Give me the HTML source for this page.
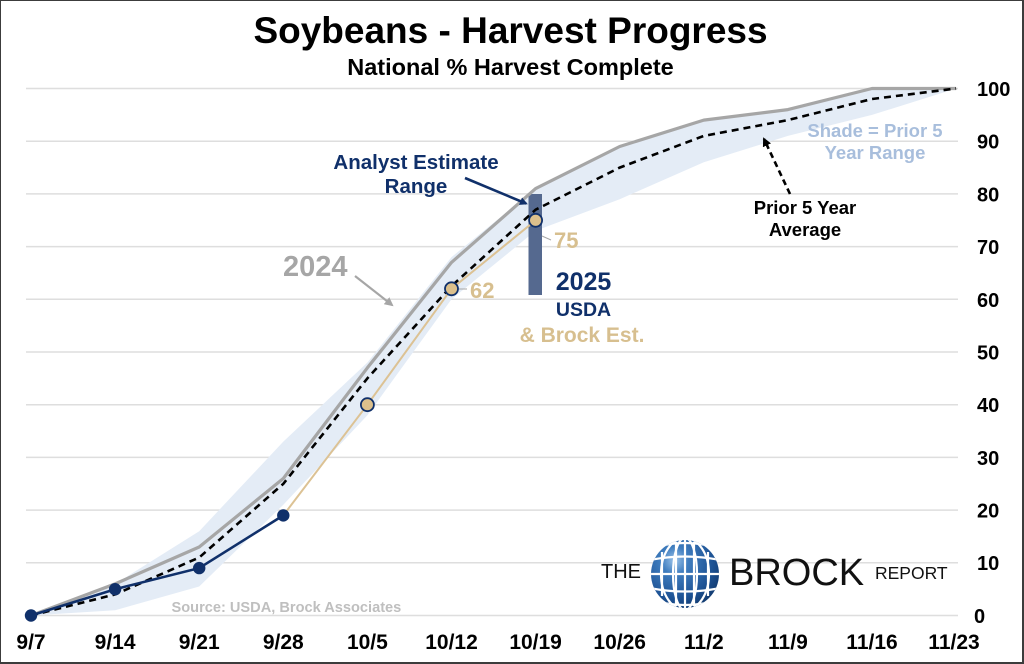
<!DOCTYPE html>
<html><head><meta charset="utf-8"><style>
html,body{margin:0;padding:0;background:#fff;}
svg{display:block;}
text{font-family:"Liberation Sans",Arial,sans-serif;}
</style></head><body>
<svg width="1024" height="664" viewBox="0 0 1024 664" xmlns="http://www.w3.org/2000/svg">
<defs>
<radialGradient id="gb" cx="0.35" cy="0.3" r="0.8">
<stop offset="0" stop-color="#9cc4ea"/>
<stop offset="0.25" stop-color="#3f7dbf"/>
<stop offset="0.7" stop-color="#1d5294"/>
<stop offset="1" stop-color="#0f3567"/>
</radialGradient>
<clipPath id="gc"><circle cx="685" cy="574" r="34"/></clipPath>
<marker id="ahN" markerWidth="8" markerHeight="8" refX="6" refY="4" orient="auto" markerUnits="userSpaceOnUse"><path d="M0,0 L8,4 L0,8 z" fill="#10306a"/></marker>
<marker id="ahG" markerWidth="9" markerHeight="9" refX="7" refY="4.5" orient="auto" markerUnits="userSpaceOnUse"><path d="M0,0 L9,4.5 L0,9 z" fill="#a6a6a6"/></marker>
<marker id="ahK" markerWidth="9" markerHeight="9" refX="7" refY="4.5" orient="auto" markerUnits="userSpaceOnUse"><path d="M0,0 L9,4.5 L0,9 z" fill="#000"/></marker>
</defs>
<rect x="0" y="0" width="1024" height="664" fill="#fff"/>

<!-- title -->
<text x="510.5" y="43" font-size="37" font-weight="bold" text-anchor="middle" fill="#000">Soybeans - Harvest Progress</text>
<text x="510.5" y="75" font-size="23.5" font-weight="bold" text-anchor="middle" fill="#000">National % Harvest Complete</text>

<!-- gridlines -->
<g stroke="#dedede" stroke-width="1.5">
<line x1="26" y1="88.5" x2="958" y2="88.5"/>
<line x1="26" y1="141.2" x2="958" y2="141.2"/>
<line x1="26" y1="193.9" x2="958" y2="193.9"/>
<line x1="26" y1="246.6" x2="958" y2="246.6"/>
<line x1="26" y1="299.3" x2="958" y2="299.3"/>
<line x1="26" y1="352" x2="958" y2="352"/>
<line x1="26" y1="404.7" x2="958" y2="404.7"/>
<line x1="26" y1="457.4" x2="958" y2="457.4"/>
<line x1="26" y1="510.1" x2="958" y2="510.1"/>
<line x1="26" y1="562.8" x2="958" y2="562.8"/>
<line x1="26" y1="615.5" x2="958" y2="615.5"/>
</g>

<!-- y labels -->
<g font-size="20" font-weight="bold" fill="#000">
<text x="977" y="96">100</text>
<text x="977" y="148.5">90</text>
<text x="977" y="201.5">80</text>
<text x="977" y="254">70</text>
<text x="977" y="307">60</text>
<text x="977" y="359.5">50</text>
<text x="977" y="412">40</text>
<text x="977" y="465">30</text>
<text x="977" y="517.5">20</text>
<text x="977" y="570">10</text>
<text x="974" y="623">0</text>
</g>

<!-- x labels -->
<g font-size="21" font-weight="bold" fill="#000" text-anchor="middle">
<text x="31" y="649">9/7</text>
<text x="115.1" y="649">9/14</text>
<text x="199.2" y="649">9/21</text>
<text x="283.3" y="649">9/28</text>
<text x="367.4" y="649">10/5</text>
<text x="451.5" y="649">10/12</text>
<text x="535.6" y="649">10/19</text>
<text x="619.7" y="649">10/26</text>
<text x="703.8" y="649">11/2</text>
<text x="787.9" y="649">11/9</text>
<text x="872" y="649">11/16</text>
<text x="954" y="649">11/23</text>
</g>

<!-- shade range -->
<polygon fill="#e4ecf6" points="31,615.5 115.1,583.9 199.2,531.2 283.3,441.6 367.4,362.5 451.5,257.1 535.6,188.6 619.7,146.5 703.8,120.1 787.9,109.6 872,88.5 956.1,88.5 872,114.9 787.9,135.9 703.8,162.3 619.7,199.2 535.6,230.8 451.5,299.3 367.4,415.2 283.3,504.8 199.2,586.5 115.1,610.2"/>

<!-- analyst range bar -->
<rect x="528.5" y="194" width="13.5" height="101" fill="#55698f"/>

<!-- 2024 -->
<polyline fill="none" stroke="#a6a6a6" stroke-width="3.2" stroke-linejoin="round" points="31,615.5 115.1,583.9 199.2,547 283.3,478.5 367.4,367.8 451.5,262.4 535.6,188.6 619.7,146.5 703.8,120.1 787.9,109.6 872,88.5 956.1,88.5"/>

<!-- avg dashed -->
<polyline fill="none" stroke="#000" stroke-width="2.6" stroke-dasharray="7,5" points="31,615.5 115.1,594.4 199.2,557.5 283.3,483.8 367.4,378.3 451.5,286.1 535.6,209.7 619.7,167.6 703.8,135.9 787.9,120.1 872,99 956.1,88.5"/>

<!-- tan estimate line -->
<polyline fill="none" stroke="#dcc294" stroke-width="2" points="283.3,515.4 367.4,404.7 451.5,288.8 535.6,220.3"/>

<!-- navy 2025 -->
<polyline fill="none" stroke="#10306a" stroke-width="2.6" points="31,615.5 115.1,589.2 199.2,568.1 283.3,515.4"/>
<g fill="#10306a">
<circle cx="31" cy="615.5" r="6.2"/>
<circle cx="115.1" cy="589.2" r="6.2"/>
<circle cx="199.2" cy="568.1" r="6.2"/>
<circle cx="283.3" cy="515.4" r="6.2"/>
</g>
<g fill="#dcc08c" stroke="#10306a" stroke-width="1.8">
<circle cx="367.4" cy="404.7" r="6.5"/>
<circle cx="451.5" cy="288.8" r="6.5"/>
<circle cx="535.6" cy="220.3" r="6.5"/>
</g>

<!-- data labels -->
<line x1="459" y1="289" x2="467" y2="289" stroke="#a6a6a6" stroke-width="1"/>
<line x1="542" y1="236" x2="551" y2="240" stroke="#a6a6a6" stroke-width="1"/>
<g font-size="22" font-weight="bold" fill="#d7bf8f">
<text x="470" y="298">62</text>
<text x="554" y="248">75</text>
</g>

<!-- annotations -->
<text x="283" y="276" font-size="29" font-weight="bold" fill="#a6a6a6">2024</text>
<line x1="355" y1="276" x2="392" y2="305" stroke="#a6a6a6" stroke-width="2.2" marker-end="url(#ahG)"/>

<g font-size="20.5" font-weight="bold" fill="#10306a" text-anchor="middle">
<text x="416" y="169">Analyst Estimate</text>
<text x="416" y="193">Range</text>
</g>
<line x1="465" y1="178" x2="526" y2="203.5" stroke="#10306a" stroke-width="2.6" marker-end="url(#ahN)"/>

<text x="583.5" y="290" font-size="25" font-weight="bold" fill="#10306a" text-anchor="middle">2025</text>
<text x="583.5" y="316" font-size="19.5" font-weight="bold" fill="#10306a" text-anchor="middle">USDA</text>
<text x="582" y="342" font-size="21" font-weight="bold" fill="#d7bf8f" text-anchor="middle">&amp; Brock Est.</text>

<g font-size="18.5" font-weight="bold" fill="#a8bedc" text-anchor="middle">
<text x="875" y="137">Shade = Prior 5</text>
<text x="875" y="159">Year Range</text>
</g>

<line x1="790" y1="194" x2="764" y2="139" stroke="#000" stroke-width="2.6" stroke-dasharray="6,4" marker-end="url(#ahK)"/>
<g font-size="18.5" font-weight="bold" fill="#000" text-anchor="middle">
<text x="805" y="214">Prior 5 Year</text>
<text x="805" y="236">Average</text>
</g>

<text x="171.5" y="612" font-size="14.6" font-weight="bold" fill="#bfbfbf">Source: USDA, Brock Associates</text>

<!-- logo -->
<text x="601" y="578" font-size="20" fill="#111">THE</text>
<circle cx="685" cy="574" r="34" fill="url(#gb)"/>
<g clip-path="url(#gc)" stroke="#fff" stroke-width="2.2" fill="none">
<ellipse cx="685" cy="574" rx="12" ry="36"/>
<ellipse cx="685" cy="574" rx="24" ry="36"/>
<line x1="685" y1="538" x2="685" y2="610"/>
<line x1="650" y1="574" x2="720" y2="574"/>
<path d="M650,560 Q685,553 720,560"/>
<path d="M650,588 Q685,595 720,588"/>
<path d="M652,548 Q685,538 718,548"/>
<path d="M652,600 Q685,610 718,600"/>
<line x1="662" y1="552" x2="662" y2="596"/>
<line x1="708" y1="552" x2="708" y2="596"/>
<line x1="694" y1="542" x2="694" y2="606"/>
<line x1="676" y1="542" x2="676" y2="606"/>
</g>
<text x="729" y="585" font-size="38" fill="#111">BROCK</text>
<text x="875" y="579" font-size="17.5" fill="#111">REPORT</text>

<!-- border -->
<rect x="0" y="0" width="1024" height="1" fill="#3c3c3c"/>
<rect x="0" y="0" width="1" height="664" fill="#3c3c3c"/>
<rect x="1022" y="0" width="2" height="664" fill="#3c3c3c"/>
<rect x="0" y="662" width="1024" height="2" fill="#3c3c3c"/>
</svg>
</body></html>
